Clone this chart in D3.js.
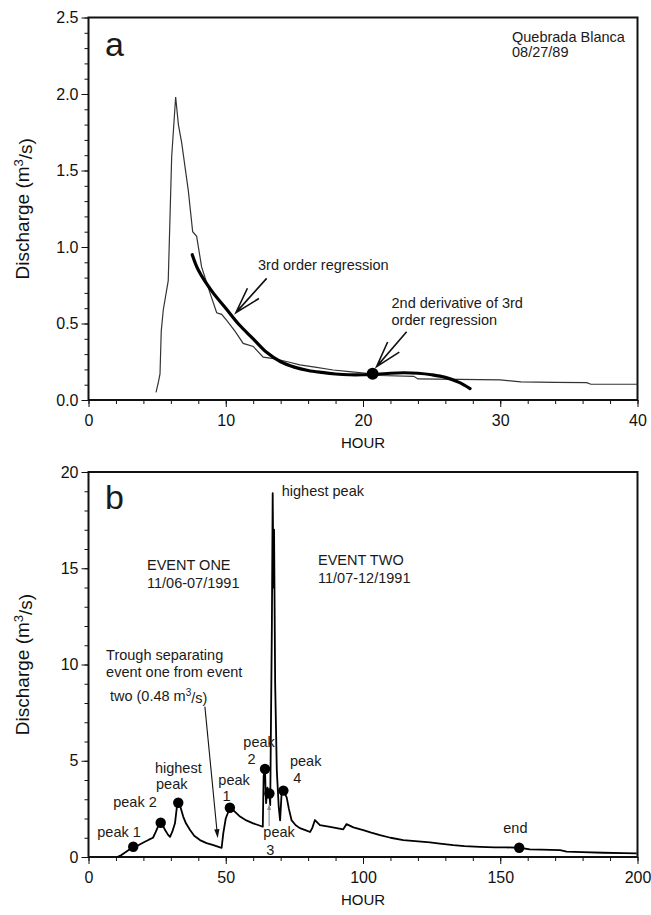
<!DOCTYPE html>
<html><head><meta charset="utf-8">
<script src="https://cdn.jsdelivr.net/npm/d3@7"></script>
<style>body{margin:0;background:#fff}svg{display:block;font-family:"Liberation Sans",Arial,sans-serif}</style>
</head><body><svg id="c" width="651" height="915"></svg>
<script>
// ---------- Panel a data (Quebrada Blanca 08/27/89) ----------
const hoursA = [4.92,5.1,5.21,5.3,5.45,5.81,6.06,6.35,6.55,6.79,7.27,7.59,7.88,8.24,8.85,9.34,9.7,10.07,10.67,11.27,12.0,12.73,13.5,14.5,15.4,16.5,17.83,19,20.26,21.2,23.7,24.0,27,30,31.5,34,36.3,36.6,40];
const flowA  = [0.05,0.12,0.17,0.45,0.59,0.78,1.59,1.98,1.80,1.68,1.37,1.10,1.07,0.87,0.70,0.57,0.56,0.52,0.45,0.37,0.35,0.28,0.27,0.25,0.23,0.215,0.196,0.185,0.175,0.16,0.155,0.138,0.135,0.132,0.118,0.115,0.113,0.103,0.103];
const regHoursA = [7.56,8,9,10,11,12,13,14,15,16,17,18,19,20,21,22,23,24,25,26,27,27.8];
const regFlowA  = [0.95,0.85,0.71,0.60,0.49,0.40,0.31,0.25,0.215,0.193,0.18,0.17,0.165,0.165,0.168,0.175,0.178,0.175,0.165,0.148,0.115,0.075];
const inflectionA = [20.7, 0.172];
const xTicksA = [0,10,20,30,40];
const yTicksA = [0.0,0.5,1.0,1.5,2.0,2.5];

// ---------- Panel b data (events of 11/1991) ----------
const hoursB = [10.5,12,14,16.3,18,20,22,23.5,24.5,25.4,26.3,27.2,27.9,29,29.7,30.5,31.5,32.2,32.7,33.5,34.5,35.5,37,38.5,40.6,43,45.5,47.9,48.5,49.1,50,51.5,53,55.2,57.5,60,62,63.5,63.8,64.3,64.5,64.7,65.2,65.9,66.2,66.8,67.1,67.4,67.6,68.0,68.6,69.3,69.8,70.3,71.0,72.2,73,74,75.5,77,79,80.7,81.5,82.5,84.3,88,92.8,93.5,94.0,96.5,100.1,103,106.2,110,114.7,119,124.4,128,132.9,137,142.6,148,152,156.9,160.8,165,171.8,174.2,180,187.5,195,199.7];
const flowB  = [0,0.1,0.3,0.53,0.6,0.75,0.9,1.0,1.3,1.6,1.78,1.6,1.4,1.15,1.05,1.3,1.75,2.6,2.82,2.6,2.1,1.75,1.4,1.1,0.88,0.72,0.62,0.5,0.48,1.23,2.0,2.56,2.4,2.1,1.9,1.75,1.65,1.57,4.2,4.57,3.5,2.8,3.6,3.3,2.7,12,18.9,14,17.0,9,4.5,2.6,1.9,3.2,3.45,3.1,2.5,1.9,1.65,1.5,1.4,1.3,1.5,1.92,1.66,1.57,1.44,1.6,1.71,1.54,1.4,1.27,1.14,1.0,0.88,0.82,0.76,0.7,0.62,0.57,0.53,0.5,0.5,0.48,0.40,0.38,0.36,0.28,0.25,0.22,0.2,0.19];
const peakHoursB = [16.3,26.3,32.7,51.5,64.3,65.9,71.0,156.9];
const peakFlowB  = [0.53,1.78,2.82,2.56,4.57,3.3,3.45,0.48];
const xTicksB = [0,50,100,150,200];
const yTicksB = [0,5,10,15,20];

const svg = d3.select("#c");
const L = 88.5, R = 637.5;
const xa = d3.scaleLinear([0,40],[L,R]);
const ya = d3.scaleLinear([0,2.5],[400,17.5]);
const xb = d3.scaleLinear([0,200],[L,R]);
const yb = d3.scaleLinear([0,20],[857,472]);
const FS = 14.5;

function drawAxes(x, y, xt, yt, xMinorStep, yMinorStep, yFmt) {
  const [x0,x1] = x.range(), [y0,y1] = y.range();
  const g = svg.append("g");
  const xMinor = d3.range(x.domain()[0], x.domain()[1]+1e-9, xMinorStep);
  const yMinor = d3.range(y.domain()[0], y.domain()[1]+1e-9, yMinorStep);
  g.append("g").attr("transform",`translate(0,${y0})`)
    .call(d3.axisBottom(x).tickValues(xMinor).tickSize(4).tickFormat(""))
    .call(s=>s.select(".domain").remove());
  g.append("g").attr("transform",`translate(${x0},0)`)
    .call(d3.axisLeft(y).tickValues(yMinor).tickSize(4).tickFormat(""))
    .call(s=>s.select(".domain").remove());
  g.append("g").attr("transform",`translate(0,${y0})`)
    .call(d3.axisBottom(x).tickValues(xt).tickSize(7).tickPadding(8))
    .call(s=>s.select(".domain").remove())
    .call(s=>s.selectAll("text").style("font-size","16px").attr("fill","#111").style("font-family","Liberation Sans, Arial, sans-serif"));
  g.append("g").attr("transform",`translate(${x0},0)`)
    .call(d3.axisLeft(y).tickValues(yt).tickSize(7).tickPadding(3).tickFormat(yFmt))
    .call(s=>s.select(".domain").remove())
    .call(s=>s.selectAll("text").style("font-size","16px").attr("fill","#111").style("font-family","Liberation Sans, Arial, sans-serif"));
  g.selectAll(".tick line").attr("stroke","#111").attr("stroke-width",1);
  g.append("rect").attr("x",x0).attr("y",y1).attr("width",x1-x0).attr("height",y0-y1)
    .attr("fill","none").attr("stroke","#111").attr("stroke-width",2);
  // axis titles
  g.append("text").attr("x",(x0+x1)/2).attr("y",y0+48).attr("text-anchor","middle")
    .style("font-size","15px").attr("fill","#111").text("HOUR");
  const t = g.append("text").attr("transform",`translate(29,${(y0+y1)/2}) rotate(-90)`)
    .attr("text-anchor","middle").style("font-size","19px").attr("fill","#111");
  t.append("tspan").text("Discharge (m");
  t.append("tspan").attr("dy","-0.45em").style("font-size","13px").text("3");
  t.append("tspan").attr("dy","0.45em").text("/s)");
}

drawAxes(xa, ya, xTicksA, yTicksA, 2, 0.1, d3.format(".1f"));
drawAxes(xb, yb, xTicksB, yTicksB, 10, 1, d3.format("d"));

function label(x, y, str, size, anchor) {
  return svg.append("text").attr("x",x).attr("y",y).attr("text-anchor",anchor||"start")
    .style("font-size",(size||FS)+"px").attr("fill","#1a1a1a").text(str);
}
function vArrow(x1,y1,x2,y2,len,ang,w) {
  const th = Math.atan2(y1-y2, x1-x2);
  const p = d3.path();
  p.moveTo(x1,y1); p.lineTo(x2,y2);
  p.moveTo(x2+len*Math.cos(th+ang), y2+len*Math.sin(th+ang)); p.lineTo(x2,y2);
  p.lineTo(x2+len*Math.cos(th-ang), y2+len*Math.sin(th-ang));
  svg.append("path").attr("d",p.toString()).attr("fill","none").attr("stroke","#111").attr("stroke-width",w||1.6);
}
function fArrow(x1,y1,x2,y2,len,hw,color) {
  const th = Math.atan2(y2-y1, x2-x1);
  svg.append("line").attr("x1",x1).attr("y1",y1).attr("x2",x2-len*0.6*Math.cos(th)).attr("y2",y2-len*0.6*Math.sin(th))
    .attr("stroke",color).attr("stroke-width",1.1);
  const bx = x2-len*Math.cos(th), by = y2-len*Math.sin(th);
  const px = -Math.sin(th)*hw, py = Math.cos(th)*hw;
  svg.append("path").attr("d",`M${x2},${y2}L${bx+px},${by+py}L${bx-px},${by-py}Z`).attr("fill",color);
}

// ---------- Panel a marks ----------
const lineA = d3.line().x(d=>xa(d[0])).y(d=>ya(d[1]));
svg.append("path").datum(d3.zip(hoursA, flowA)).attr("d", lineA)
  .attr("fill","none").attr("stroke","#333").attr("stroke-width",1.2);
svg.append("path").datum(d3.zip(regHoursA, regFlowA))
  .attr("d", lineA.curve(d3.curveCatmullRom))
  .attr("fill","none").attr("stroke","#000").attr("stroke-width",3.2).attr("stroke-linecap","round");
svg.append("circle").attr("cx",xa(inflectionA[0])).attr("cy",ya(inflectionA[1])).attr("r",6).attr("fill","#000");

label(105, 56, "a", 34);
label(512, 42, "Quebrada Blanca");
label(512, 57, "08/27/89");
label(xa(12.35), ya(0.85), "3rd order regression");
vArrow(xa(12.98), ya(0.795), xa(10.74), ya(0.571), 27, 0.29);
label(xa(22.08), ya(0.6), "2nd derivative of 3rd");
label(xa(22.08), ya(0.49), "order regression");
vArrow(xa(23.18), ya(0.446), xa(20.99), ya(0.218), 27, 0.29);

// ---------- Panel b marks ----------
const lineB = d3.line().x(d=>xb(d[0])).y(d=>yb(d[1]));
svg.append("path").datum(d3.zip(hoursB, flowB)).attr("d", lineB)
  .attr("fill","none").attr("stroke","#000").attr("stroke-width",1.8).attr("stroke-linejoin","round");
svg.selectAll(".pk").data(d3.zip(peakHoursB, peakFlowB)).join("circle")
  .attr("cx",d=>xb(d[0])).attr("cy",d=>yb(d[1])).attr("r",5.2).attr("fill","#000");

label(105, 509, "b", 34);
label(xb(70.4), yb(18.75), "highest peak");
label(147, yb(14.9), "EVENT ONE");
label(147, yb(14.0), "11/06-07/1991");
label(318, yb(15.17), "EVENT TWO");
label(318, yb(14.25), "11/07-12/1991");
label(xb(6.4), yb(10.23), "Trough separating");
label(xb(6.4), yb(9.33), "event one from event");
const tt = label(xb(7.8), yb(8.12), "");
tt.append("tspan").text("two (0.48 m");
tt.append("tspan").attr("dy","-0.45em").style("font-size","10px").text("3");
tt.append("tspan").attr("dy","0.45em").text("/s)");
fArrow(xb(42.4), yb(7.81), xb(47.07), yb(0.97), 9, 2.6, "#111");

label(xb(3.2), yb(1.05), "peak 1");
label(xb(9.0), yb(2.6), "peak 2");
label(xb(24.2), yb(4.38), "highest");
label(xb(24.6), yb(3.52), "peak");
label(xb(47.3), yb(3.74), "peak");
label(xb(50.3), yb(2.9), "1", FS, "middle");
label(xb(56.4), yb(5.73), "peak");
label(xb(59.4), yb(4.83), "2", FS, "middle");
label(xb(73.4), yb(4.73), "peak");
label(xb(76.1), yb(3.83), "4", FS, "middle");
label(xb(63.7), yb(1.02), "peak");
label(xb(66.2), yb(0.1), "3", FS, "middle");
fArrow(xb(65.8), yb(1.6), xb(65.8), yb(2.75), 6, 2, "#888");
label(xb(151.1), yb(1.26), "end");
</script></body></html>
